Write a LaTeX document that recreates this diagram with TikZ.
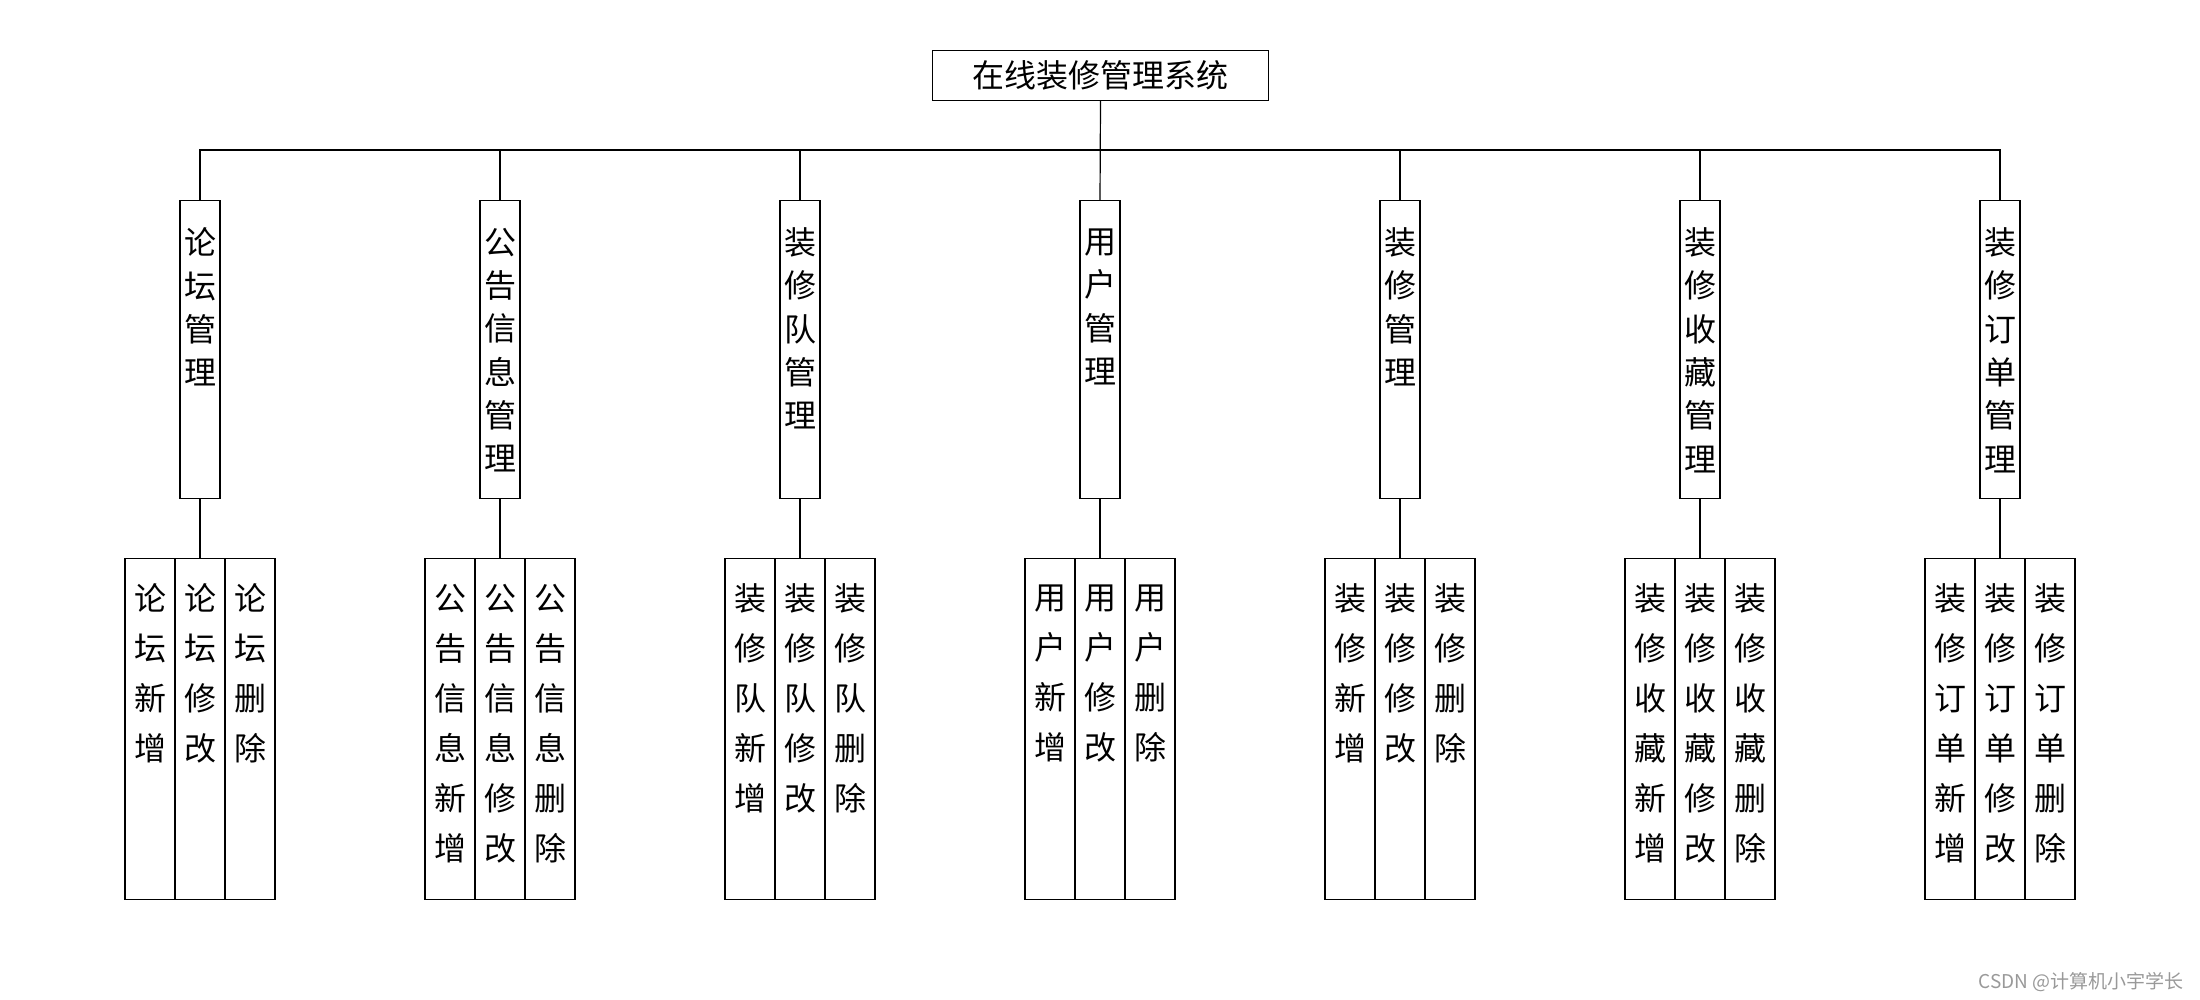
\documentclass[tikz,border=0pt]{standalone}
\usepackage{fontspec}
\newfontfamily\cjk{Noto Sans CJK SC}
\begin{document}
\begin{tikzpicture}[x=1pt,y=-1pt,line width=1.2pt,
  topbox/.style={draw, inner sep=0, minimum width=336pt, minimum height=50pt, font=\cjk\fontsize{32}{38}\selectfont},
  midbox/.style={draw, inner sep=0, minimum width=40pt, minimum height=298pt, anchor=north},
  leafbox/.style={draw, inner sep=0, minimum width=50pt, minimum height=341pt, anchor=north},
  midtext/.style={inner sep=0, align=center, font=\cjk\fontsize{32}{43.3}\selectfont},
  leaftext/.style={inner sep=0, align=center, font=\cjk\fontsize{32}{50}\selectfont},
  watermark/.style={inner sep=0, anchor=east, text=black!40, font=\cjk\fontsize{19}{22}\selectfont}]
\useasboundingbox (0,0) rectangle (2200,1000);
\node[topbox] (top) at (1100.5,75.5) {在线装修管理系统};
\coordinate (bus) at (1100,150);
\foreach \i/\p/\n [evaluate=\i as \x using 200+300*(\i-1),
                   evaluate=\n as \ym using 242+(\n-1)*21.65,
                   evaluate=\n as \yl using 598.3+(\n-1)*25] in
  {1/{论\\坛}/4, 2/{公\\告\\信\\息}/6, 3/{装\\修\\队}/5, 4/{用\\户}/4,
   5/{装\\修}/4, 6/{装\\修\\收\\藏}/6, 7/{装\\修\\订\\单}/6}{
  \node[midbox] (m\i) at (\x,200) {};
  \node[midtext] (mt\i) at (\x,\ym) {\p\\管\\理};
  \node[leafbox] (l\i-a) at (\x-50,558) {};
  \node[leafbox] (l\i-b) at (\x,558) {};
  \node[leafbox] (l\i-c) at (\x+50,558) {};
  \node[leaftext] (lt\i-a) at (\x-50,\yl) {\p\\新\\增};
  \node[leaftext] (lt\i-b) at (\x,\yl) {\p\\修\\改};
  \node[leaftext] (lt\i-c) at (\x+50,\yl) {\p\\删\\除};
  \draw (m\i.south) -- (l\i-b.north);
}
\draw (top.south) -- (m4.north);
\draw (m1.north) -- (m1.north |- bus) -- (m7.north |- bus) -- (m7.north);
\foreach \i in {2,3,5,6}{
  \draw (m\i.north) -- (m\i.north |- bus);
}
\node[watermark] (wm) at (2184,982) {CSDN @计算机小宇学长};
\end{tikzpicture}
\end{document}
